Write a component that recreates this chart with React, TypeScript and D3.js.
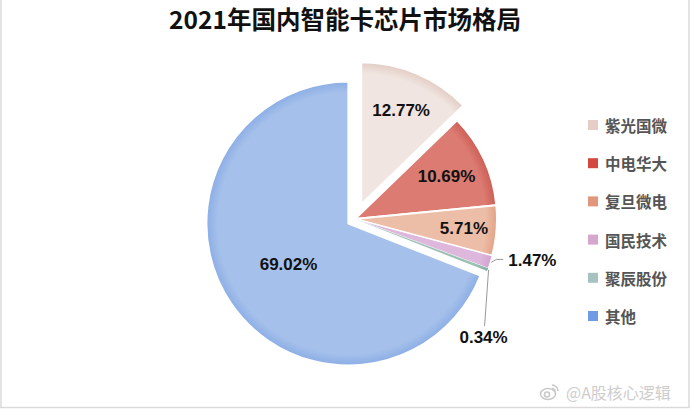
import React from "react";
import * as d3 from "d3";

const categories = ["紫光国微", "中电华大", "复旦微电", "国民技术", "聚辰股份", "其他"];
const shares = [12.77, 10.69, 5.71, 1.47, 0.34, 69.02];
const labels = ["12.77%", "10.69%", "5.71%", "1.47%", "0.34%", "69.02%"];

const legendColors = ["#E6CEC6", "#D4493F", "#E0977B", "#D5A6CE", "#A8C2C2", "#6E9BE2"];
const fillInner = ["#F0E5E0", "#DB7B72", "#ECBDA7", "#DEB8DC", "#9CC0B6", "#A5C0EA"];
const fillEdge = ["#E2CDC4", "#CD5E55", "#E2A286", "#D3A3D0", "#86AEA3", "#8CAEE6"];
const explode = [16, 0, 0, 0, 0, 8];
const strokeW = [2, 2, 2, 1, 0, 2];
const labelR = [0.72, 0.71, 0.77, 0, 0, 0.51];

const W = 692, H = 410;
const cx = 355, cy = 219, R = 142;

export default function App() {
  const data = categories.map((c, i) => ({ c, v: shares[i], i }));
  const pie = d3.pie<any>().sort(null).value((d: any) => d.v).startAngle(0).endAngle(2 * Math.PI);
  const arcs = pie(data);
  const arc = d3.arc<any>().innerRadius(0).outerRadius(R);
  const font = "'Liberation Sans', Arial, 'Noto Sans CJK SC', sans-serif";
  const cjk = "'Noto Sans CJK SC', 'Liberation Sans', sans-serif";

  const legendY = d3.scalePoint<string>().domain(categories).range([125, 316]);

  return (
    <svg width={W} height={H} style={{ position: "absolute", left: 0, top: 0, background: "#fff" }}>
      <defs>
        {arcs.map((a, i) => (
          <radialGradient key={i} id={"g" + i} gradientUnits="userSpaceOnUse" cx={0} cy={0} r={R}>
            <stop offset="0" stopColor={fillInner[i]} />
            <stop offset="0.92" stopColor={fillInner[i]} />
            <stop offset="1" stopColor={fillEdge[i]} />
          </radialGradient>
        ))}
      </defs>
      <rect x={0} y={0} width={W} height={H} fill="#fff" />
      <line x1={1} y1={0} x2={1} y2={407} stroke="#DADADA" strokeWidth={1.5} />
      <line x1={0} y1={407.5} x2={689} y2={407.5} stroke="#DADADA" strokeWidth={1.5} />
      <line x1={689} y1={0} x2={689} y2={408} stroke="#DADADA" strokeWidth={1.5} />

      <text x={345} y={29} textAnchor="middle" fontFamily={cjk} fontWeight={700} fontSize={24.5} fill="#111">
        2021年国内智能卡芯片市场格局
      </text>

      {arcs.map((a, i) => {
        const mid = (a.startAngle + a.endAngle) / 2;
        const ox = Math.sin(mid) * explode[i], oy = -Math.cos(mid) * explode[i];
        return (
          <path key={i} d={arc(a) as string} transform={`translate(${cx + ox},${cy + oy})`}
            fill={`url(#g${i})`} stroke={strokeW[i] ? "#fff" : "none"} strokeWidth={strokeW[i]} strokeLinejoin="round" />
        );
      })}

      {arcs.map((a, i) => {
        if (labelR[i] === 0) return null;
        const mid = (a.startAngle + a.endAngle) / 2;
        const ox = Math.sin(mid) * explode[i], oy = -Math.cos(mid) * explode[i];
        const rr = R * labelR[i];
        return (
          <text key={i} x={cx + ox + Math.sin(mid) * rr} y={cy + oy - Math.cos(mid) * rr}
            textAnchor="middle" dominantBaseline="central" fontFamily={font} fontWeight={700}
            fontSize={17} fill="#111">{labels[i]}</text>
        );
      })}

      {(() => {
        const a = arcs[3];
        const mid = (a.startAngle + a.endAngle) / 2;
        const x0 = cx + Math.sin(mid) * (R + 1), y0 = cy - Math.cos(mid) * (R + 1);
        return (
          <g>
            <polyline points={`${x0},${y0} ${x0 + 5},${y0 - 3} ${x0 + 12},${y0 - 3}`} fill="none" stroke="#999" strokeWidth={1} />
            <text x={x0 + 17} y={y0 - 2} dominantBaseline="central" fontFamily={font} fontWeight={700} fontSize={17} fill="#111">{labels[3]}</text>
          </g>
        );
      })()}
      {(() => {
        const a = arcs[4];
        const mid = (a.startAngle + a.endAngle) / 2;
        const x0 = cx + Math.sin(mid) * (R + 1), y0 = cy - Math.cos(mid) * (R + 1);
        return (
          <g>
            <polyline points={`${x0},${y0} ${x0 - 4},${y0 + 56}`} fill="none" stroke="#999" strokeWidth={1} />
            <text x={x0 - 5} y={y0 + 67} textAnchor="middle" dominantBaseline="central" fontFamily={font} fontWeight={700} fontSize={17} fill="#111">{labels[4]}</text>
          </g>
        );
      })()}

      {categories.map((c, i) => (
        <g key={c} transform={`translate(588,${legendY(c)})`}>
          <rect x={0} y={-5} width={10} height={10} fill={legendColors[i]} />
          <text x={17} y={0} dominantBaseline="central" fontFamily={cjk} fontWeight={700} fontSize={15.5} fill="#555">{c}</text>
        </g>
      ))}

      <g opacity={0.9}>
        <g transform="translate(548,392)" fill="none" stroke="#C4C4C4" strokeWidth={1.6}>
          <ellipse cx={0} cy={2} rx={7.5} ry={5.5} />
          <circle cx={-1} cy={2.5} r={2.5} />
          <path d="M4,-7 A6,6 0 0 1 10,-1" />
          <path d="M4,-3.5 A3,3 0 0 1 7,-0.5" />
        </g>
        <text x={566} y={392} dominantBaseline="central" fontFamily={cjk} fontSize={16} fill="#C8C8C8"
          stroke="#fff" strokeWidth={0.6} paintOrder="stroke">@A股核心逻辑</text>
      </g>
    </svg>
  );
}
